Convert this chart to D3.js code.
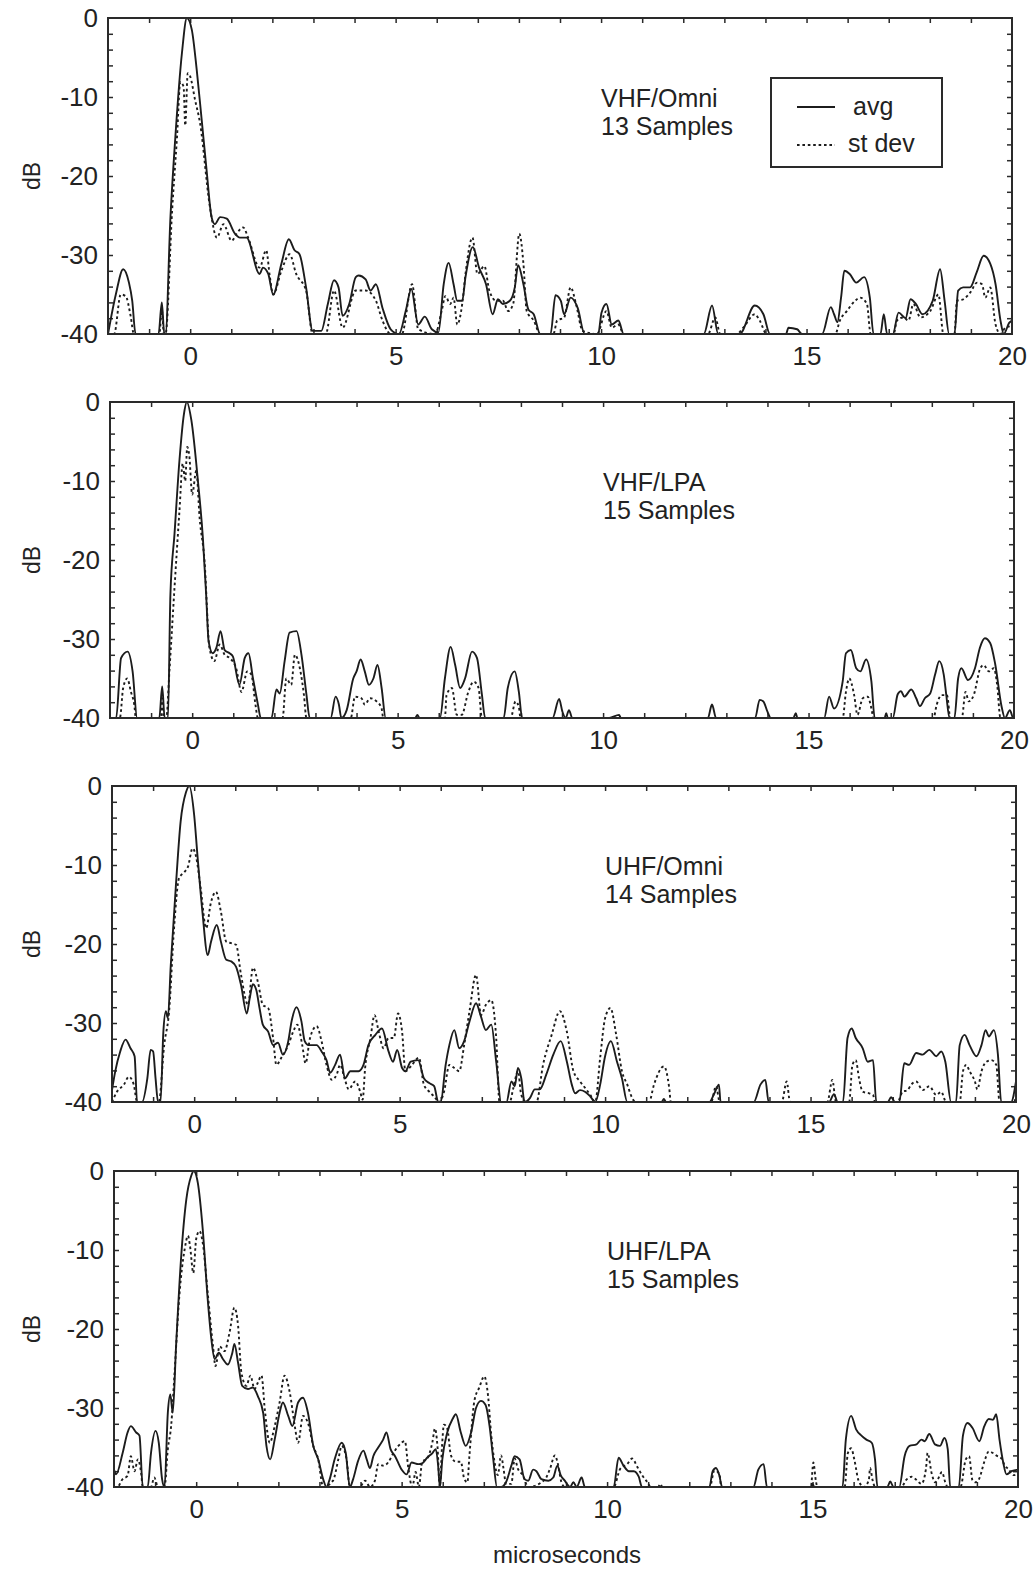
<!DOCTYPE html>
<html>
<head>
<meta charset="utf-8">
<script src="https://cdn.jsdelivr.net/npm/d3@7"></script>
<style>
  body { margin: 0; background: #fff; }
  svg { font-family: "Liberation Sans", Arial, sans-serif; }
  .frame { fill: none; stroke: #2a2a2a; stroke-width: 2; }
  .tick line { stroke: #2a2a2a; stroke-width: 1.5; }
  .lbl text { font-size: 26px; fill: #222; }
  .avg { fill: none; stroke: #1c1c1c; stroke-width: 1.9; stroke-linejoin: round; }
  .std { fill: none; stroke: #1c1c1c; stroke-width: 1.9; stroke-dasharray: 2.6,2.8; }
  .note { font-size: 25px; fill: #222; }
</style>
</head>
<body>
<div id="chart"></div>
<script>
var width = 1034, height = 1574;

// tick labels
var xTicks = [0, 5, 10, 15, 20];
var yTicks = [0, -10, -20, -30, -40];

var panelNames = ["VHF/Omni", "VHF/LPA", "UHF/Omni", "UHF/LPA"];
var sampleCounts = [13, 15, 14, 15];
var legendText = ["avg", "st dev"];

// VHF / Omni  [microseconds, dB]
var vhfOmniAvg = [[-2,-40],[-1.81,-35],[-1.63,-31.8],[-1.49,-33.5],[-1.41,-35.8],[-1.33,-40],[-0.77,-40],[-0.69,-36],[-0.63,-40],
  [-0.6,-40],[-0.48,-25.2],[-0.36,-15],[-0.2,-4.4],[-0.08,0],[0.04,-1.5],[0.16,-6.6],[0.28,-12.9],[0.4,-19.3],[0.52,-25.2],[0.6,-26.1],
  [0.73,-25.2],[0.89,-25.4],[1.09,-27.3],[1.21,-27.8],[1.37,-27.8],[1.69,-32.4],[1.77,-31.6],[1.9,-32.4],[2.02,-35],[2.22,-31.1],
  [2.4,-28],[2.54,-29.4],[2.66,-29.9],[2.82,-34.1],[2.98,-39.6],[3.19,-39.6],[3.35,-36.2],[3.5,-33.2],[3.61,-34.1],[3.71,-37.7],
  [3.87,-36.2],[4.03,-32.8],[4.1,-32.6],[4.27,-33.1],[4.39,-34.5],[4.52,-33.7],[4.68,-36.7],[4.88,-39.4],[5.08,-40],[5.25,-37],
  [5.38,-34.3],[5.55,-38.8],[5.71,-37.8],[5.88,-39.4],[6.04,-39.8],[6.17,-33.7],[6.29,-31],[6.41,-33.7],[6.5,-35.8],[6.62,-35.8],
  [6.7,-32.8],[6.88,-29],[7.03,-31.6],[7.2,-33.7],[7.36,-37.5],[7.49,-35.6],[7.61,-36.2],[7.78,-35.8],[7.9,-34.1],[7.98,-31.3],
  [8.11,-33.7],[8.23,-36.9],[8.36,-37.5],[8.52,-40],[8.77,-40],[8.89,-35.1],[9.02,-35.8],[9.1,-37.5],[9.26,-35.4],[9.43,-36.7],
  [9.6,-40],[9.93,-40],[10.01,-37.3],[10.13,-36.2],[10.26,-38.8],[10.42,-38.3],[10.55,-40],[12.5,-40],[12.7,-36.4],[12.85,-40],
  [13.37,-40],[13.74,-36.4],[13.95,-37.5],[14.11,-40],[14.5,-40],[14.56,-39.2],[14.77,-39.4],[14.89,-40],[15.38,-40],[15.59,-36.6],
  [15.67,-37.5],[15.75,-38.5],[15.84,-35.4],[15.92,-32],[16.05,-32.4],[16.21,-33.5],[16.4,-32.8],[16.54,-35.4],[16.63,-40],
  [16.8,-40],[16.88,-37.5],[16.96,-40],[17.1,-40],[17.24,-37.3],[17.41,-38],[17.53,-35.6],[17.66,-36.2],[17.82,-37.5],[18.07,-35.8],
  [18.25,-31.8],[18.36,-35.8],[18.47,-40],[18.6,-40],[18.69,-34.5],[18.81,-34.1],[18.98,-34.1],[19.14,-32.2],[19.31,-30.1],
  [19.47,-31.1],[19.6,-33.7],[19.72,-38.3],[19.8,-40],[19.93,-38.6],[20,-38.3]];
var vhfOmniStd = [[-2,-40],[-1.85,-40],[-1.69,-35],[-1.57,-35.2],[-1.45,-37.7],[-1.37,-40],[-0.75,-40],[-0.69,-37],[-0.64,-40],
  [-0.6,-40],[-0.44,-24.4],[-0.32,-15],[-0.24,-8.1],[-0.16,-8.7],[-0.12,-13.6],[-0.06,-7],[0,-7.4],[0.12,-10.4],[0.24,-13.3],
  [0.48,-23.9],[0.65,-27.8],[0.81,-26.1],[1.01,-28.2],[1.13,-27.3],[1.29,-26.5],[1.41,-27.8],[1.69,-31.6],[1.85,-29.4],[1.94,-32.8],
  [2.02,-35],[2.22,-32],[2.42,-29.9],[2.58,-32.4],[2.82,-34.5],[2.98,-40],[3.3,-40],[3.5,-34.5],[3.71,-39.2],[4.03,-34.5],
  [4.27,-34.5],[4.52,-35.8],[4.68,-38.3],[4.88,-40],[5.15,-40],[5.4,-33.7],[5.55,-39.4],[5.96,-40],[6.12,-37.1],[6.21,-35.2],
  [6.33,-36.2],[6.41,-35.4],[6.5,-38.8],[6.62,-36.2],[6.7,-32.4],[6.87,-27.8],[6.99,-32.4],[7.16,-31.4],[7.28,-34.5],[7.45,-35.8],
  [7.61,-35.8],[7.74,-37.1],[7.86,-36.2],[8.01,-27.3],[8.11,-31.1],[8.19,-37.1],[8.36,-38.3],[8.52,-40],[8.84,-40],[8.93,-38.3],
  [9.1,-37.9],[9.26,-34.1],[9.39,-36.2],[9.55,-39.6],[9.9,-40],[10.13,-37.1],[10.26,-39.2],[10.42,-38.8],[10.55,-40],[12.6,-40],
  [12.78,-37.9],[12.9,-40],[13.3,-40],[13.46,-39.2],[13.74,-37.5],[13.86,-38.3],[14.03,-40],[15.7,-40],[15.81,-38.3],[15.98,-37.1],
  [16.18,-35.8],[16.3,-35.4],[16.47,-36.2],[16.56,-40],[17.12,-40],[17.2,-38.3],[17.36,-37.9],[17.48,-38.3],[17.6,-36.2],
  [17.77,-37.9],[18.01,-37.1],[18.21,-35],[18.33,-40],[18.6,-40],[18.66,-35.8],[18.82,-35.6],[18.99,-34.7],[19.15,-33.5],
  [19.27,-33.7],[19.35,-35.4],[19.47,-34.1],[19.6,-38.8],[19.72,-40],[19.84,-39.2],[20,-39]];

// VHF / LPA
var vhfLpaAvg = [[-2,-40],[-1.85,-40],[-1.73,-32.4],[-1.57,-31.6],[-1.45,-34.1],[-1.34,-40],[-0.8,-40],[-0.73,-36],[-0.67,-40],
  [-0.59,-40],[-0.53,-24.4],[-0.43,-16.7],[-0.31,-7.4],[-0.2,-1.5],[-0.13,0],[-0.02,-2.3],[0.14,-10],[0.26,-17.2],[0.34,-24.4],
  [0.4,-30.3],[0.5,-31.8],[0.59,-31.1],[0.69,-29],[0.79,-31.4],[0.91,-31.8],[0.99,-32.2],[1.15,-35.8],[1.28,-32.4],[1.37,-31.8],
  [1.48,-35],[1.6,-38.3],[1.67,-40],[1.93,-40],[2.05,-36.4],[2.13,-36.9],[2.25,-32.8],[2.37,-29.2],[2.54,-29],[2.66,-32],
  [2.78,-37],[2.86,-40],[3.37,-40],[3.49,-37.3],[3.57,-38.3],[3.63,-40],[3.76,-39],[3.92,-35],[4.0,-34.1],[4.1,-32.6],[4.2,-34.1],
  [4.3,-35.8],[4.41,-35],[4.51,-33.3],[4.61,-36.2],[4.71,-40],[5.43,-40],[5.48,-39.6],[5.53,-40],[6.03,-40],[6.15,-35],[6.29,-31],
  [6.4,-33.3],[6.52,-36.2],[6.64,-35],[6.81,-31.6],[6.93,-32.4],[7.05,-37],[7.13,-40],[7.58,-40],[7.68,-36.2],[7.85,-34.1],
  [7.95,-36.7],[8.03,-40],[8.77,-40],[8.93,-37.6],[9.01,-39.2],[9.09,-40],[9.17,-39],[9.25,-40],[10.15,-40],[10.39,-39.6],
  [10.43,-40],[12.55,-40],[12.65,-38.3],[12.75,-40],[13.7,-40],[13.81,-37.7],[13.9,-37.9],[14.0,-39.2],[14.08,-40],[14.63,-40],
  [14.69,-39.4],[14.73,-40],[15.38,-40],[15.5,-37.3],[15.62,-38.8],[15.83,-35.4],[15.91,-31.8],[16.03,-31.4],[16.16,-33.7],
  [16.26,-34.1],[16.4,-32.6],[16.53,-35.4],[16.61,-40],[16.85,-40],[16.89,-39.4],[16.93,-40],[17.05,-40],[17.17,-37],[17.25,-36.6],
  [17.33,-37.3],[17.5,-36.4],[17.62,-37.5],[17.71,-38.5],[17.83,-37.5],[17.96,-36.9],[18.08,-34.5],[18.18,-32.8],[18.29,-34.5],
  [18.35,-37],[18.43,-40],[18.55,-40],[18.64,-35],[18.72,-33.7],[18.88,-35.2],[19.05,-33.7],[19.17,-31.1],[19.29,-29.9],
  [19.42,-30.5],[19.54,-33.1],[19.7,-38.6],[19.78,-40],[19.9,-39],[19.98,-40],[20,-40]];
var vhfLpaStd = [[-2,-40],[-1.76,-40],[-1.68,-36.2],[-1.58,-35],[-1.49,-36.7],[-1.41,-38.3],[-1.37,-40],[-0.76,-40],[-0.73,-37.5],
  [-0.69,-40],[-0.63,-40],[-0.55,-33.7],[-0.43,-23.5],[-0.31,-13.8],[-0.23,-7.8],[-0.17,-10],[-0.12,-5.7],[-0.07,-6.8],[0,-11.7],
  [0.1,-8.7],[0.18,-14.6],[0.3,-20.1],[0.42,-31.1],[0.54,-32.8],[0.67,-30.7],[0.79,-32],[0.91,-32.4],[1.07,-33.7],[1.2,-36.7],
  [1.34,-34.1],[1.44,-34.5],[1.54,-38.3],[1.6,-40],[2.2,-40],[2.29,-35],[2.41,-35.8],[2.5,-32],[2.62,-33.7],[2.72,-37.1],[2.78,-40],
  [3.86,-40],[3.96,-37.3],[4.12,-37.5],[4.2,-38.3],[4.33,-37.5],[4.49,-37.9],[4.61,-38.8],[4.65,-40],[6.15,-40],[6.19,-37.1],
  [6.32,-36.2],[6.44,-39.6],[6.56,-39.6],[6.72,-36.7],[6.85,-35.4],[6.97,-36.2],[7.05,-40],[7.75,-40],[7.87,-37.9],[7.95,-38.6],
  [7.99,-40],[15.83,-40],[15.91,-36.7],[15.99,-35],[16.11,-37.1],[16.19,-39.6],[16.32,-37.5],[16.44,-37.3],[16.53,-38.8],
  [16.58,-40],[18.04,-40],[18.12,-38.3],[18.24,-37.1],[18.37,-37.1],[18.45,-40],[18.73,-40],[18.82,-36.7],[18.9,-37.9],
  [19.02,-37.1],[19.18,-33.7],[19.26,-33.3],[19.39,-34.1],[19.51,-33.7],[19.59,-35.8],[19.67,-40],[20,-40]];

// UHF / Omni
var uhfOmniAvg = [[-2,-38.5],[-1.92,-36.1],[-1.8,-33.6],[-1.67,-32.1],[-1.55,-33.2],[-1.45,-34.2],[-1.39,-40],[-1.27,-40],
  [-1.14,-37],[-1.06,-33.4],[-1.0,-33.6],[-0.94,-37],[-0.88,-40],[-0.82,-40],[-0.75,-31.1],[-0.69,-28.5],[-0.64,-29.4],
  [-0.57,-22.7],[-0.45,-13],[-0.33,-4.5],[-0.2,-0.8],[-0.12,0],[0,-3.7],[0.08,-8.8],[0.2,-15.9],[0.33,-21.4],[0.41,-19.7],
  [0.55,-17.6],[0.65,-19.7],[0.78,-22],[0.9,-22.2],[1.02,-22.9],[1.14,-25.2],[1.28,-28.8],[1.35,-26.9],[1.43,-25.1],[1.51,-25.8],
  [1.59,-28.1],[1.67,-30.2],[1.8,-31.1],[1.92,-32.8],[2.04,-32.5],[2.16,-34],[2.29,-32.3],[2.37,-29.8],[2.49,-28],[2.61,-29.8],
  [2.69,-32.3],[2.78,-32.8],[2.98,-32.8],[3.1,-33.6],[3.22,-34.7],[3.31,-36.3],[3.43,-35.3],[3.55,-34],[3.67,-37],[3.8,-36.1],
  [4.0,-36.1],[4.12,-35.3],[4.24,-32.8],[4.41,-31.5],[4.57,-30.7],[4.73,-33.6],[4.84,-34.9],[4.94,-33.4],[5.06,-35.7],[5.14,-36.1],
  [5.27,-34.9],[5.45,-34.7],[5.59,-37],[5.72,-37.6],[5.84,-38],[5.94,-40],[6.0,-40],[6.12,-35.3],[6.21,-32.8],[6.33,-30.9],
  [6.45,-33.2],[6.57,-32.3],[6.7,-29.8],[6.86,-27.5],[6.98,-29.2],[7.1,-30.9],[7.23,-30.2],[7.35,-34.9],[7.47,-40],[7.6,-40],
  [7.72,-37.4],[7.8,-38],[7.88,-35.7],[7.96,-37],[8.04,-40],[8.17,-39.5],[8.29,-38.4],[8.41,-38.4],[8.57,-36.5],[8.74,-34],
  [8.92,-32.3],[9.07,-34.9],[9.19,-37.8],[9.27,-38.9],[9.39,-38.5],[9.51,-38.7],[9.64,-39.3],[9.76,-40],[9.88,-37.8],[10.0,-34.2],
  [10.14,-32.3],[10.29,-34.9],[10.41,-37],[10.54,-40],[11.38,-40],[11.43,-39.6],[11.48,-40],[12.54,-40],[12.66,-38.9],
  [12.77,-37.8],[12.81,-40],[13.62,-40],[13.78,-37.8],[13.9,-37.2],[13.98,-40],[15.45,-40],[15.57,-39],[15.66,-40],[15.79,-40],
  [15.9,-31.9],[16.0,-30.7],[16.1,-31.9],[16.27,-33.2],[16.39,-34.9],[16.52,-34.7],[16.6,-40],[16.88,-40],[16.96,-39.4],
  [17.06,-40],[17.16,-40],[17.28,-35.1],[17.4,-35.3],[17.57,-33.8],[17.73,-34],[17.89,-33.4],[18.06,-34.2],[18.18,-33.6],
  [18.28,-34.9],[18.42,-40],[18.54,-40],[18.63,-32.8],[18.75,-31.5],[18.87,-32.8],[19.04,-34.2],[19.16,-32.8],[19.26,-30.9],
  [19.34,-31.7],[19.46,-30.9],[19.56,-34],[19.64,-40],[19.88,-40],[20,-37.4]];
var uhfOmniStd = [[-2,-40],[-1.88,-38.7],[-1.71,-37.8],[-1.59,-36.8],[-1.47,-37.8],[-1.39,-40],[-0.86,-40],[-0.73,-32.8],
  [-0.61,-28.5],[-0.49,-18],[-0.37,-11.7],[-0.24,-10.9],[-0.15,-10.2],[-0.04,-7.9],[0.04,-8.8],[0.16,-13],[0.29,-18],[0.41,-14.7],
  [0.53,-13.4],[0.65,-15.9],[0.78,-19.7],[0.9,-19.9],[1.02,-20.1],[1.14,-23.9],[1.31,-27.7],[1.43,-23],[1.55,-24.8],[1.67,-27.7],
  [1.8,-28.1],[1.92,-31.9],[2.0,-35.3],[2.12,-34.4],[2.29,-32.8],[2.41,-31.1],[2.51,-30.2],[2.63,-32.8],[2.71,-35.1],[2.82,-31.9],
  [2.98,-30.4],[3.1,-32.3],[3.22,-35.3],[3.35,-37.2],[3.47,-36.5],[3.55,-35.3],[3.67,-37.2],[3.76,-38.4],[3.92,-37.4],[4.04,-38.7],
  [4.1,-39.7],[4.16,-35.7],[4.29,-31.9],[4.39,-29],[4.49,-31.1],[4.61,-33.2],[4.73,-31.9],[4.86,-31.9],[4.96,-28.8],[5.06,-31.1],
  [5.14,-36.1],[5.27,-35.5],[5.47,-34.4],[5.59,-37.8],[5.72,-38.7],[5.84,-39.3],[5.96,-40],[6.08,-38.7],[6.21,-35.3],[6.33,-35.7],
  [6.45,-36.1],[6.57,-32.8],[6.7,-28.5],[6.86,-23.9],[6.98,-29],[7.1,-27.7],[7.23,-27.1],[7.35,-31.9],[7.43,-40],[7.68,-40],
  [7.76,-38.4],[7.88,-36.1],[7.96,-39.1],[8.08,-40],[8.33,-40],[8.49,-35.3],[8.7,-31.5],[8.9,-28.5],[9.07,-31.1],[9.23,-36.1],
  [9.39,-37.4],[9.51,-38.2],[9.64,-39.1],[9.76,-40],[9.88,-34.4],[10.0,-29.4],[10.13,-28.1],[10.27,-31.5],[10.41,-36.1],
  [10.54,-37.8],[10.66,-39.5],[10.74,-40],[11.07,-40],[11.19,-37.8],[11.43,-35.5],[11.56,-38.2],[11.6,-40],[12.58,-40],
  [12.7,-38],[12.79,-40],[14.3,-40],[14.42,-37.4],[14.5,-40],[15.41,-40],[15.53,-37.2],[15.62,-40],[15.94,-40],[16.02,-35.3],
  [16.1,-34.7],[16.18,-37],[16.27,-38.7],[16.43,-38.9],[16.52,-39.1],[16.57,-40],[17.12,-40],[17.24,-38.7],[17.36,-38.5],
  [17.45,-37.8],[17.57,-37.4],[17.73,-38.5],[17.89,-38],[18.06,-39.1],[18.18,-38.7],[18.3,-40],[18.63,-40],[18.71,-36.1],
  [18.79,-35.3],[18.87,-36.1],[19.0,-37.4],[19.06,-38.4],[19.16,-36.1],[19.28,-34.9],[19.4,-34.7],[19.52,-35.3],[19.6,-40],
  [19.96,-40],[20,-39]];

// UHF / LPA
var uhfLpaAvg = [[-2,-37.8],[-1.95,-38.4],[-1.79,-35.7],[-1.67,-33.1],[-1.59,-32.3],[-1.46,-33.1],[-1.38,-33.5],[-1.3,-40],
  [-1.18,-40],[-1.1,-35.7],[-0.99,-32.9],[-0.91,-34.4],[-0.83,-39],[-0.77,-40],[-0.69,-30.6],[-0.63,-28.3],[-0.57,-30.6],
  [-0.49,-22.2],[-0.37,-11.2],[-0.24,-3.6],[-0.12,-0.6],[-0.06,0],[0.04,-1.5],[0.16,-7.4],[0.28,-16.2],[0.37,-21.3],[0.45,-23.8],
  [0.55,-23],[0.65,-23.8],[0.77,-24.5],[0.88,-23],[0.93,-21.9],[1.02,-24.3],[1.12,-27.2],[1.26,-27.6],[1.38,-27.4],[1.5,-28.5],
  [1.63,-30.6],[1.71,-34.8],[1.8,-36.5],[1.91,-34],[2.03,-30.6],[2.11,-29.3],[2.24,-31],[2.34,-32.3],[2.48,-29.3],[2.6,-28.7],
  [2.72,-30.6],[2.85,-34.8],[2.97,-36.5],[3.09,-39],[3.17,-40],[3.25,-39],[3.37,-36.5],[3.54,-34.4],[3.64,-35.7],[3.74,-40],
  [3.82,-39],[3.94,-36.7],[4.07,-35.4],[4.15,-36.5],[4.23,-37.6],[4.31,-36.1],[4.43,-35],[4.55,-34],[4.63,-33.1],[4.73,-35.2],
  [4.84,-36.1],[5.0,-37.8],[5.12,-38.4],[5.24,-36.9],[5.41,-37.1],[5.5,-37],[5.62,-36.3],[5.75,-35.7],[5.83,-35.2],[5.89,-37.4],
  [5.93,-40],[5.99,-36.5],[6.11,-33.1],[6.24,-31.4],[6.32,-30.8],[6.44,-33.1],[6.56,-34.8],[6.69,-33.1],[6.81,-30],[6.93,-29.1],
  [7.04,-29.6],[7.14,-32.3],[7.23,-36.5],[7.32,-40],[7.42,-40],[7.54,-39.4],[7.67,-37.3],[7.75,-36.1],[7.87,-36.5],[7.99,-39],
  [8.08,-39.2],[8.2,-37.8],[8.28,-38],[8.4,-39],[8.57,-39.2],[8.69,-38.8],[8.79,-37.3],[8.87,-38.5],[8.97,-39.2],[9.1,-40],
  [9.18,-39.4],[9.26,-40],[9.38,-38.8],[9.46,-40],[10.16,-40],[10.28,-36.3],[10.4,-37.3],[10.53,-38],[10.65,-38],[10.77,-38.7],
  [10.85,-40],[12.49,-40],[12.57,-38],[12.65,-37.6],[12.73,-38.5],[12.8,-40],[13.56,-40],[13.68,-37.8],[13.81,-37.1],[13.89,-40],
  [14.96,-40],[15.0,-39.6],[15.04,-40],[15.73,-40],[15.81,-34],[15.94,-31],[16.06,-32.7],[16.19,-33.5],[16.31,-34],[16.44,-34.4],
  [16.52,-36.5],[16.58,-40],[16.82,-40],[16.89,-39.3],[16.97,-40],[17.11,-40],[17.24,-36.1],[17.36,-34.8],[17.53,-34.6],
  [17.65,-34],[17.73,-34.2],[17.84,-33.3],[17.98,-34.6],[18.1,-34.8],[18.21,-33.8],[18.29,-35.2],[18.35,-40],[18.56,-40],
  [18.66,-33.5],[18.77,-31.9],[18.89,-32.5],[19.06,-34.2],[19.18,-32.3],[19.29,-31.4],[19.39,-31.5],[19.47,-30.8],[19.55,-34],
  [19.64,-36.9],[19.72,-38.4],[19.84,-38],[20,-37.8]];
var uhfLpaStd = [[-2,-40],[-1.92,-40],[-1.79,-39],[-1.67,-38.6],[-1.59,-36.1],[-1.5,-38],[-1.42,-36.5],[-1.34,-38.2],[-1.3,-40],
  [-1.1,-40],[-1.02,-38.8],[-0.93,-40],[-0.77,-40],[-0.69,-35.2],[-0.61,-32.3],[-0.53,-25.9],[-0.41,-15.8],[-0.28,-9.9],
  [-0.2,-8.2],[-0.15,-9.5],[-0.07,-12.9],[0,-8.6],[0.08,-7.6],[0.16,-9.1],[0.28,-15.4],[0.41,-22.2],[0.47,-24.7],[0.57,-22.2],
  [0.69,-22.8],[0.81,-20.5],[0.93,-17.3],[1.02,-19.6],[1.1,-25.5],[1.22,-27.2],[1.32,-25.9],[1.42,-27.6],[1.5,-26.8],[1.59,-25.9],
  [1.67,-30.2],[1.79,-34.4],[1.91,-32.3],[2.03,-29.3],[2.15,-25.9],[2.28,-28.1],[2.4,-32.3],[2.48,-34.4],[2.6,-31],[2.72,-31.9],
  [2.85,-34.8],[2.97,-36.5],[3.09,-40],[3.33,-39.2],[3.46,-36.5],[3.54,-34.8],[3.66,-36.5],[3.74,-40],[3.98,-40],[4.11,-39.2],
  [4.23,-40],[4.35,-39.2],[4.43,-37.1],[4.55,-37.3],[4.67,-36.9],[4.8,-35.7],[4.92,-34.8],[5.08,-34.2],[5.16,-37.5],[5.26,-40],
  [5.34,-38.1],[5.42,-40],[5.5,-36.8],[5.62,-36.4],[5.75,-34.3],[5.81,-32.6],[5.87,-34.7],[5.93,-40],[5.98,-35.1],[6.03,-32.1],
  [6.11,-32.6],[6.2,-36],[6.32,-36.8],[6.44,-36.8],[6.52,-38.9],[6.6,-39.4],[6.65,-36],[6.77,-29.1],[6.89,-27.4],[7.01,-26],
  [7.1,-28.3],[7.18,-33.4],[7.26,-36.8],[7.34,-38.5],[7.42,-36],[7.48,-37.7],[7.54,-39.6],[7.67,-39.6],[7.75,-36.4],[7.83,-37.7],
  [7.95,-38.5],[8.08,-40],[8.48,-39.1],[8.61,-37.7],[8.73,-36],[8.79,-36.8],[8.89,-39.4],[8.97,-40],[10.16,-40],[10.32,-37.7],
  [10.49,-37.1],[10.61,-36.4],[10.73,-37.4],[10.85,-38.5],[10.98,-39.4],[11.06,-40],[11.24,-40],[11.3,-39.6],[11.34,-40],
  [12.5,-40],[12.61,-37.9],[12.73,-38.3],[12.78,-40],[14.96,-40],[15.02,-36.9],[15.08,-39.2],[15.12,-40],[15.78,-40],[15.86,-35.7],
  [15.94,-35.1],[16.02,-36.6],[16.12,-39.2],[16.25,-40],[16.37,-39.1],[16.4,-37.6],[16.46,-39.1],[16.52,-40],[17.16,-40],
  [17.28,-39.1],[17.41,-38.7],[17.53,-39.1],[17.65,-39.6],[17.76,-37.7],[17.8,-35.7],[17.9,-38.3],[17.98,-39.4],[18.04,-39.1],
  [18.15,-38.1],[18.23,-39.4],[18.29,-40],[18.6,-40],[18.73,-36.5],[18.81,-36.1],[18.89,-39.1],[18.97,-39.4],[19.06,-38.9],
  [19.18,-36.8],[19.29,-35.5],[19.39,-35.7],[19.47,-36],[19.6,-36.4],[19.68,-37.3],[19.76,-37.7],[19.89,-38.5],[20,-38.3]];

var avgSeries = [vhfOmniAvg, vhfLpaAvg, uhfOmniAvg, uhfLpaAvg];
var stdSeries = [vhfOmniStd, vhfLpaStd, uhfOmniStd, uhfLpaStd];

var svg = d3.select("#chart").append("svg")
    .attr("width", width)
    .attr("height", height);

var panelTops = [18, 402, 786, 1171],
    pw = 904, ph = 316;

panelNames.forEach(function(name, i) {
  var left = 108 + 2 * i;
  var x = d3.scaleLinear().domain([-2, 20]).range([0, pw]);
  var y = d3.scaleLinear().domain([-40, 0]).range([ph, 0]);

  var g = svg.append("g")
      .attr("transform", "translate(" + left + "," + panelTops[i] + ")");

  g.append("clipPath").attr("id", "clip" + i)
    .append("rect").attr("width", pw).attr("height", ph + 1);

  //minor ticks on all four sides, pointing in
  var minorX = d3.range(-1, 20), minorY = d3.range(-38, 0, 2);
  g.append("g").attr("transform", "translate(0," + ph + ")")
      .call(d3.axisBottom(x).tickValues(minorX).tickSize(-5).tickFormat(""));
  g.append("g")
      .call(d3.axisTop(x).tickValues(minorX).tickSize(-5).tickFormat(""));
  g.append("g")
      .call(d3.axisLeft(y).tickValues(minorY).tickSize(-5).tickFormat(""));
  g.append("g").attr("transform", "translate(" + pw + ",0)")
      .call(d3.axisRight(y).tickValues(minorY).tickSize(-5).tickFormat(""));
  g.selectAll(".domain").remove();

  // tick labels (plain hyphen like the original)
  g.append("g").attr("class", "lbl")
      .attr("transform", "translate(0," + ph + ")")
      .call(d3.axisBottom(x).tickValues(xTicks).tickSize(0).tickPadding(13)
        .tickFormat(function(d) { return String(d); }))
      .call(function(a) { a.select(".domain").remove(); });
  g.append("g").attr("class", "lbl")
      .call(d3.axisLeft(y).tickValues(yTicks).tickSize(0).tickPadding(10)
        .tickFormat(function(d) { return String(d); }))
      .call(function(a) { a.select(".domain").remove(); });

  g.append("text")
      .attr("transform", "translate(" + (-76 - 2 * i) + "," + (ph / 2) + ") rotate(-90)")
      .attr("text-anchor", "middle")
      .attr("dy", ".35em")
      .style("font-size", "23px")
      .attr("fill", "#222")
      .text("dB");

  var line = d3.line()
      .curve(d3.curveMonotoneX)
      .x(function(d) { return x(d[0]); })
      .y(function(d) { return y(d[1]); });

  g.append("path").datum(stdSeries[i])
      .attr("class", "std")
      .attr("clip-path", "url(#clip" + i + ")")
      .attr("d", line);
  g.append("path").datum(avgSeries[i])
      .attr("class", "avg")
      .attr("clip-path", "url(#clip" + i + ")")
      .attr("d", line);

  g.append("rect").attr("class", "frame")
      .attr("width", pw).attr("height", ph);

  // panel title
  g.append("text").attr("class", "note")
      .attr("x", 493).attr("y", 89)
      .text(name);
  g.append("text").attr("class", "note")
      .attr("x", 493).attr("y", 117)
      .text(sampleCounts[i] + " Samples");

  //legend only on the first panel
  if (i == 0) {
    var lg = g.append("g").attr("transform", "translate(" + (771 - left) + ",60)");
    lg.append("rect")
        .attr("width", 171).attr("height", 89)
        .attr("fill", "none").attr("stroke", "#2a2a2a").attr("stroke-width", 2);
    lg.append("line").attr("class", "avg")
        .attr("x1", 26).attr("x2", 64).attr("y1", 29).attr("y2", 29);
    lg.append("line").attr("class", "std")
        .attr("x1", 26).attr("x2", 64).attr("y1", 67).attr("y2", 67);
    lg.append("text").attr("class", "note")
        .attr("x", 82).attr("y", 37).text(legendText[0]);
    lg.append("text").attr("class", "note")
        .attr("x", 77).attr("y", 74).text(legendText[1]);
  }
});

svg.append("text")
    .attr("x", 567).attr("y", 1563)
    .attr("text-anchor", "middle")
    .style("font-size", "24px")
    .attr("fill", "#222")
    .text("microseconds");
</script>
</body>
</html>
